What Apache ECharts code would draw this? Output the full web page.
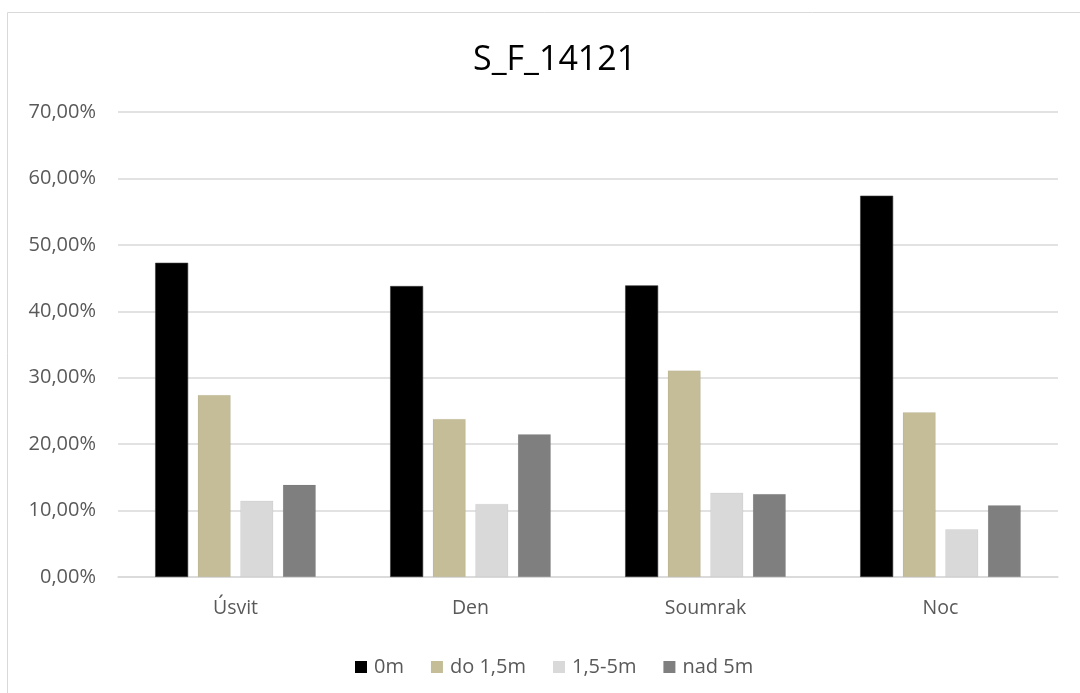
<!DOCTYPE html>
<html>
<head>
<meta charset="utf-8">
<script src="https://cdn.jsdelivr.net/npm/echarts@6/dist/echarts.min.js"></script>
<style>
  html, body { margin: 0; padding: 0; background: #ffffff; }
  #chart { width: 1080px; height: 693px; }
</style>
</head>
<body>
<div id="chart"></div>
<script>
// Time-of-day categories on the x axis
const categories = ['Úsvit', 'Den', 'Soumrak', 'Noc'];

// Share of observations per height band (percent)
const seriesNames = ['0m', 'do 1,5m', '1,5-5m', 'nad 5m'];
const values0m    = [47.3, 43.8, 43.9, 57.4];
const valuesDo15  = [27.4, 23.8, 31.1, 24.8];
const values155   = [11.5, 11.0, 12.7, 7.2];
const valuesNad5  = [13.9, 21.5, 12.5, 10.8];

const seriesColors = ['#000000', '#c4bd97', '#d9d9d9', '#7f7f7f'];
const seriesData = [values0m, valuesDo15, values155, valuesNad5];

const font = '"Open Sans", "Noto Sans", sans-serif';
const textColor = '#595959';

const chart = echarts.init(document.getElementById('chart'), null, { renderer: 'canvas' });

chart.setOption({
  animation: false,
  backgroundColor: '#ffffff',
  graphic: [{
    type: 'rect',
    shape: { x: 7.5, y: 12.5, width: 1100, height: 700 },
    style: { fill: 'none', stroke: '#d9d9d9', lineWidth: 1 },
    silent: true,
    z: -10
  }],
  title: {
    text: 'S_F_14121',
    left: 468,
    top: 38,
    textStyle: { fontFamily: font, fontSize: 34, fontWeight: 'normal', color: '#000000' }
  },
  legend: {
    data: seriesNames,
    left: 350,
    top: 652,
    itemWidth: 12,
    itemHeight: 12,
    itemGap: 27,
    icon: 'rect',
    itemStyle: { borderWidth: 0 },
    textStyle: { fontFamily: font, fontSize: 20, color: textColor, padding: [0, 0, 0, 2] }
  },
  grid: { left: 118, right: 22, top: 112, bottom: 116, containLabel: false },
  xAxis: {
    type: 'category',
    data: categories,
    axisLine: { lineStyle: { color: '#d9d9d9', width: 1.5 } },
    axisTick: { show: false },
    axisLabel: { fontFamily: font, fontSize: 19.5, color: textColor, margin: 21 }
  },
  yAxis: {
    type: 'value',
    min: 0,
    max: 70,
    interval: 10,
    axisLine: { show: false },
    axisTick: { show: false },
    splitLine: { lineStyle: { color: '#d9d9d9', width: 1.5 } },
    axisLabel: {
      fontFamily: font, fontSize: 20, color: textColor, margin: 22,
      formatter: v => v.toFixed(2).replace('.', ',') + '%'
    }
  },
  series: seriesNames.map((name, i) => ({
    name: name,
    type: 'bar',
    data: seriesData[i],
    barWidth: 33,
    barGap: '29%',
    itemStyle: {
      color: seriesColors[i],
      borderColor: i === 0 ? '#3a3a3a' : 'rgba(0,0,0,0.08)',
      borderWidth: 0.6
    }
  }))
});
</script>
</body>
</html>
